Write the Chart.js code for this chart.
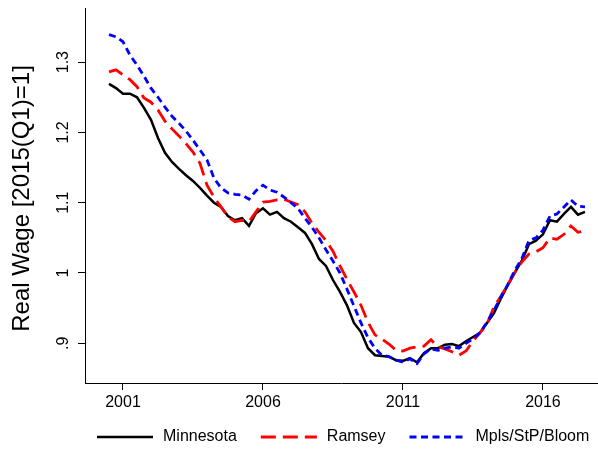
<!DOCTYPE html>
<html>
<head>
<meta charset="utf-8">
<script src="https://cdn.jsdelivr.net/npm/chart.js@4.4.1/dist/chart.umd.min.js"></script>
<style>
  html, body { margin: 0; padding: 0; background: #fff; }
</style>
</head>
<body>
<canvas id="grafico" width="598" height="451"></canvas>
<script>
const quarters = [
  "2000q3", "2000q4",
  "2001q1", "2001q2", "2001q3", "2001q4",
  "2002q1", "2002q2", "2002q3", "2002q4",
  "2003q1", "2003q2", "2003q3", "2003q4",
  "2004q1", "2004q2", "2004q3", "2004q4",
  "2005q1", "2005q2", "2005q3", "2005q4",
  "2006q1", "2006q2", "2006q3", "2006q4",
  "2007q1", "2007q2", "2007q3", "2007q4",
  "2008q1", "2008q2", "2008q3", "2008q4",
  "2009q1", "2009q2", "2009q3", "2009q4",
  "2010q1", "2010q2", "2010q3", "2010q4",
  "2011q1", "2011q2", "2011q3", "2011q4",
  "2012q1", "2012q2", "2012q3", "2012q4",
  "2013q1", "2013q2", "2013q3", "2013q4",
  "2014q1", "2014q2", "2014q3", "2014q4",
  "2015q1", "2015q2", "2015q3", "2015q4",
  "2016q1", "2016q2", "2016q3", "2016q4",
  "2017q1", "2017q2", "2017q3"
];

const minnesota = [
  1.269, 1.263, 1.255, 1.255, 1.250, 1.235, 1.218, 1.192, 1.171, 1.158,
  1.148, 1.139, 1.131, 1.121, 1.110, 1.100, 1.094, 1.081, 1.075, 1.078,
  1.067, 1.085, 1.092, 1.083, 1.087, 1.078, 1.073, 1.065, 1.057, 1.041,
  1.020, 1.010, 0.990, 0.973, 0.954, 0.929, 0.916, 0.893, 0.883, 0.882,
  0.881, 0.876, 0.875, 0.879, 0.873, 0.886, 0.893, 0.893, 0.898, 0.899,
  0.896, 0.903, 0.909, 0.915, 0.929, 0.943, 0.964, 0.983, 1.001, 1.018,
  1.041, 1.046, 1.055, 1.075, 1.073, 1.084, 1.094, 1.083, 1.087
];

const ramsey = [
  1.286, 1.289, 1.282, 1.275, 1.265, 1.249, 1.243, 1.232, 1.216, 1.205,
  1.195, 1.184, 1.172, 1.156, 1.125, 1.108, 1.094, 1.080, 1.073, 1.075,
  1.073, 1.087, 1.101, 1.102, 1.104, 1.105, 1.101, 1.097, 1.087, 1.071,
  1.058, 1.046, 1.031, 1.010, 0.991, 0.973, 0.954, 0.930, 0.912, 0.906,
  0.899, 0.890, 0.889, 0.893, 0.895, 0.896, 0.905, 0.895, 0.892, 0.888,
  0.883, 0.889, 0.903, 0.915, 0.927, 0.952, 0.967, 0.984, 1.001, 1.016,
  1.027, 1.030, 1.036, 1.050, 1.048, 1.055, 1.067, 1.058, 1.060
];

const mplsStpBloom = [
  1.339, 1.336, 1.329, 1.310, 1.296, 1.280, 1.263, 1.250, 1.236, 1.223,
  1.213, 1.202, 1.189, 1.175, 1.161, 1.135, 1.121, 1.114, 1.112, 1.111,
  1.105, 1.117, 1.125, 1.118, 1.115, 1.108, 1.100, 1.092, 1.078, 1.065,
  1.050, 1.033, 1.017, 1.000, 0.977, 0.953, 0.929, 0.908, 0.893, 0.883,
  0.881, 0.876, 0.873, 0.878, 0.871, 0.885, 0.892, 0.890, 0.893, 0.895,
  0.893, 0.900, 0.906, 0.915, 0.930, 0.947, 0.966, 0.984, 1.004, 1.021,
  1.046, 1.050, 1.061, 1.081, 1.084, 1.094, 1.104, 1.095, 1.094
];

const xTicks = [2001, 2006, 2011, 2016];
const xTickLabels = ["2001", "2006", "2011", "2016"];
const yTicks = [0.9, 1.0, 1.1, 1.2, 1.3];
const yTickLabels = [".9", "1", "1.1", "1.2", "1.3"];
const yTitle = "Real Wage [2015(Q1)=1]";

const fonte = "'Liberation Sans', Arial, Helvetica, sans-serif";

// "2003q2" -> 2003.25 (posição no eixo em anos)
function quarterToYear(q) {
  const partes = q.split("q");
  return Number(partes[0]) + (Number(partes[1]) - 1) / 4;
}

function pontos(serie) {
  return quarters.map((q, i) => ({ x: quarterToYear(q), y: serie[i] }));
}

const series = [
  { label: "Minnesota", data: minnesota, color: "#000000", dash: [], width: 2.5, order: 3 },
  { label: "Ramsey", data: ramsey, color: "#ff0000", dash: [15, 7], width: 2.8, order: 2 },
  { label: "Mpls/StP/Bloom", data: mplsStpBloom, color: "#0000ff", dash: [7, 4.5], width: 2.8, order: 1 }
];

// rótulos do eixo y girados, título do eixo e legenda
const textosExtras = {
  id: "textosExtras",
  afterDraw(chart) {
    const ctx = chart.ctx;
    const escalaY = chart.scales.y;
    const area = chart.chartArea;
    ctx.save();
    ctx.fillStyle = "#000";
    ctx.textAlign = "center";
    ctx.textBaseline = "middle";
    ctx.font = "16px " + fonte;
    yTicks.forEach((v, i) => {
      ctx.save();
      ctx.translate(64, escalaY.getPixelForValue(v));
      ctx.rotate(-Math.PI / 2);
      ctx.fillText(yTickLabels[i], 0, 0);
      ctx.restore();
    });

    ctx.font = "24px " + fonte;
    ctx.save();
    ctx.translate(22, (area.top + area.bottom) / 2 + 3);
    ctx.rotate(-Math.PI / 2);
    ctx.fillText(yTitle, 0, 0);
    ctx.restore();

    ctx.font = "16px " + fonte;
    ctx.textAlign = "left";
    const ly = 437;
    let x = 97;
    chart.data.datasets.forEach(ds => {
      ctx.beginPath();
      ctx.setLineDash(ds.borderDash || []);
      ctx.lineWidth = ds.borderWidth;
      ctx.strokeStyle = ds.borderColor;
      ctx.moveTo(x, ly);
      ctx.lineTo(x + 56, ly);
      ctx.stroke();
      ctx.setLineDash([]);
      ctx.fillText(ds.label, x + 66, ly);
      x += 66 + ctx.measureText(ds.label).width + 24;
    });
    ctx.restore();
  }
};

const ctx = document.getElementById("grafico").getContext("2d");
const grafico = new Chart(ctx, {
  type: "line",
  data: {
    datasets: series.map(s => ({
      label: s.label,
      data: pontos(s.data),
      borderColor: s.color,
      backgroundColor: s.color,
      borderWidth: s.width,
      borderDash: s.dash,
      borderCapStyle: "butt",
      pointRadius: 0,
      tension: 0,
      fill: false,
      order: s.order
    }))
  },
  options: {
    responsive: false,
    animation: false,
    layout: { padding: { top: 8, right: 1, left: 0, bottom: 0 } },
    plugins: {
      legend: { display: false },
      tooltip: { enabled: false }
    },
    scales: {
      x: {
        type: "linear",
        min: 1999.643,
        max: 2017.93,
        afterBuildTicks: scale => { scale.ticks = xTicks.map(v => ({ value: v })); },
        afterFit: scale => { scale.height = 68; },
        ticks: {
          autoSkip: false,
          maxRotation: 0,
          padding: 3,
          color: "#000",
          font: { family: fonte, size: 16 },
          callback: v => xTickLabels[xTicks.indexOf(v)]
        },
        grid: { drawOnChartArea: false, drawTicks: true, tickLength: 7, color: "#000", lineWidth: 1 },
        border: { display: true, color: "#000", width: 1 }
      },
      y: {
        type: "linear",
        min: 0.8435,
        max: 1.377,
        afterBuildTicks: scale => { scale.ticks = yTicks.map(v => ({ value: v })); },
        afterFit: scale => { scale.width = 85; },
        ticks: { display: false },
        grid: { drawOnChartArea: false, drawTicks: true, tickLength: 7, color: "#000", lineWidth: 1 },
        border: { display: true, color: "#000", width: 1 }
      }
    }
  },
  plugins: [textosExtras]
});
</script>
</body>
</html>
